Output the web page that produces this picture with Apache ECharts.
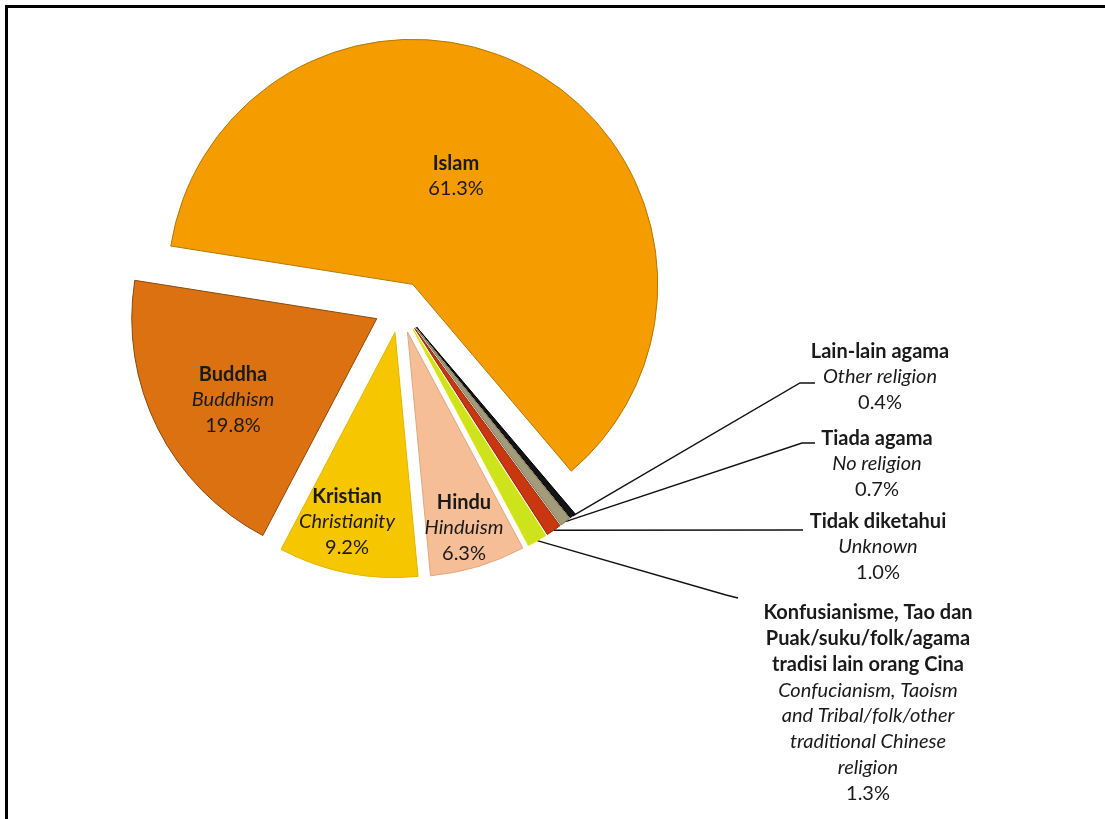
<!DOCTYPE html>
<html>
<head>
<meta charset="utf-8">
<script src="https://cdn.jsdelivr.net/npm/echarts@6/dist/echarts.min.js"></script>
<style>
html,body{margin:0;padding:0;background:#fff;}
#chart{width:1105px;height:819px;}
</style>
</head>
<body>
<div id="chart"></div>
<script>
// ---- data ----
var namesMs = ['Islam', 'Lain-lain agama', 'Tiada agama', 'Tidak diketahui',
  'Konfusianisme, Tao dan\nPuak/suku/folk/agama\ntradisi lain orang Cina',
  'Hindu', 'Kristian', 'Buddha'];
var namesEn = ['', 'Other religion', 'No religion', 'Unknown',
  'Confucianism, Taoism\nand Tribal/folk/other\ntraditional Chinese\nreligion',
  'Hinduism', 'Christianity', 'Buddhism'];
var values = [61.3, 0.4, 0.7, 1.0, 1.3, 6.3, 9.2, 19.8];

// ---- styling / layout ----
var colors = ['#F59C00', '#141414', '#A39B7A', '#C9360F', '#CDE41C', '#F5BE96', '#F6C700', '#DC7111'];
var borders = ['#B27A05', '#000000', '#7d7658', '#8E2A0A', '#E8E000', '#E3A77C', '#E0B800', '#8A4A0A'];
var outside = [false, true, true, true, true, false, false, false];
var CENTER = [400, 307];
var RADIUS = 245;
var EXPLODE = 26;
// label anchor positions (text block centre)
var labelPos = [[456, 176], [880, 377], [877, 464], [878, 547], [868, 703], [464, 528], [347, 522], [233, 400]];
// elbow + end of leader lines for outside labels
var linePts = {
  1: [[800, 383], [815, 383]],
  2: [[802, 443], [815, 443]],
  3: [[790, 530], [803, 530]],
  4: [[726, 595], [738, 598]]
};

function makeLabel(i) {
  var parts = [];
  namesMs[i].split('\n').forEach(function (s) { parts.push('{b|' + s + '}'); });
  if (namesEn[i]) namesEn[i].split('\n').forEach(function (s) { parts.push('{i|' + s + '}'); });
  parts.push('{v|' + values[i].toFixed(1) + '%}');
  return parts.join('\n');
}

var sliceData = values.map(function (v, i) {
  return {
    name: namesMs[i].replace(/\n/g, ' '),
    value: v,
    selected: true,
    itemStyle: { color: colors[i], borderColor: borders[i], borderWidth: 1 }
  };
});
var labelData = values.map(function (v, i) {
  return {
    name: namesMs[i].replace(/\n/g, ' '),
    value: v,
    itemStyle: { color: 'rgba(0,0,0,0)', borderWidth: 0 },
    label: { position: outside[i] ? 'outside' : 'inside' },
    labelLine: { show: outside[i] }
  };
});

var font = 'Lato, "Open Sans", sans-serif';
var txt = '#1a1a1a';
var FS = 20, LH = 25.8;
var chart = echarts.init(document.getElementById('chart'), null, { renderer: 'canvas' });
chart.setOption({
  animation: false,
  backgroundColor: '#ffffff',
  graphic: [
    { type: 'rect', shape: { x: 5, y: 5, width: 1100, height: 3 }, style: { fill: '#000' } },
    { type: 'rect', shape: { x: 5, y: 5, width: 3, height: 814 }, style: { fill: '#000' } }
  ],
  series: [{
    type: 'pie',
    center: CENTER,
    radius: [0, RADIUS],
    startAngle: 171,
    clockwise: true,
    selectedMode: 'multiple',
    selectedOffset: EXPLODE,
    silent: true,
    emphasis: { scale: false, disabled: true },
    label: { show: false },
    labelLine: { show: false },
    data: sliceData
  }, {
    type: 'pie',
    center: CENTER,
    radius: [0, RADIUS],
    startAngle: 171,
    clockwise: true,
    selectedMode: false,
    avoidLabelOverlap: false,
    minShowLabelAngle: 0,
    silent: true,
    emphasis: { scale: false, disabled: true },
    label: {
      show: true,
      formatter: function (p) { return makeLabel(p.dataIndex); },
      color: txt,
      fontFamily: font,
      fontSize: FS,
      lineHeight: LH,
      align: 'center',
      rich: {
        b: { fontWeight: 'bold', fontSize: FS, lineHeight: LH, fontFamily: font, color: txt },
        i: { fontStyle: 'italic', fontSize: FS, lineHeight: LH, fontFamily: font, color: txt },
        v: { fontSize: FS, lineHeight: LH, fontFamily: font, color: txt }
      }
    },
    labelLine: { show: true, length: 20, length2: 20, lineStyle: { color: '#111', width: 1.4 } },
    labelLayout: function (params) {
      var i = params.dataIndex;
      var res = { x: labelPos[i][0], y: labelPos[i][1], align: 'center', verticalAlign: 'middle' };
      if (linePts[i] && params.labelLinePoints) {
        var s = params.labelLinePoints[0];
        var dx = s[0] - CENTER[0], dy = s[1] - CENTER[1];
        var len = Math.sqrt(dx * dx + dy * dy) || 1;
        var start = [s[0] + dx / len * EXPLODE, s[1] + dy / len * EXPLODE];
        res.labelLinePoints = [start, linePts[i][0], linePts[i][1]];
      }
      return res;
    },
    data: labelData
  }]
});
</script>
</body>
</html>
